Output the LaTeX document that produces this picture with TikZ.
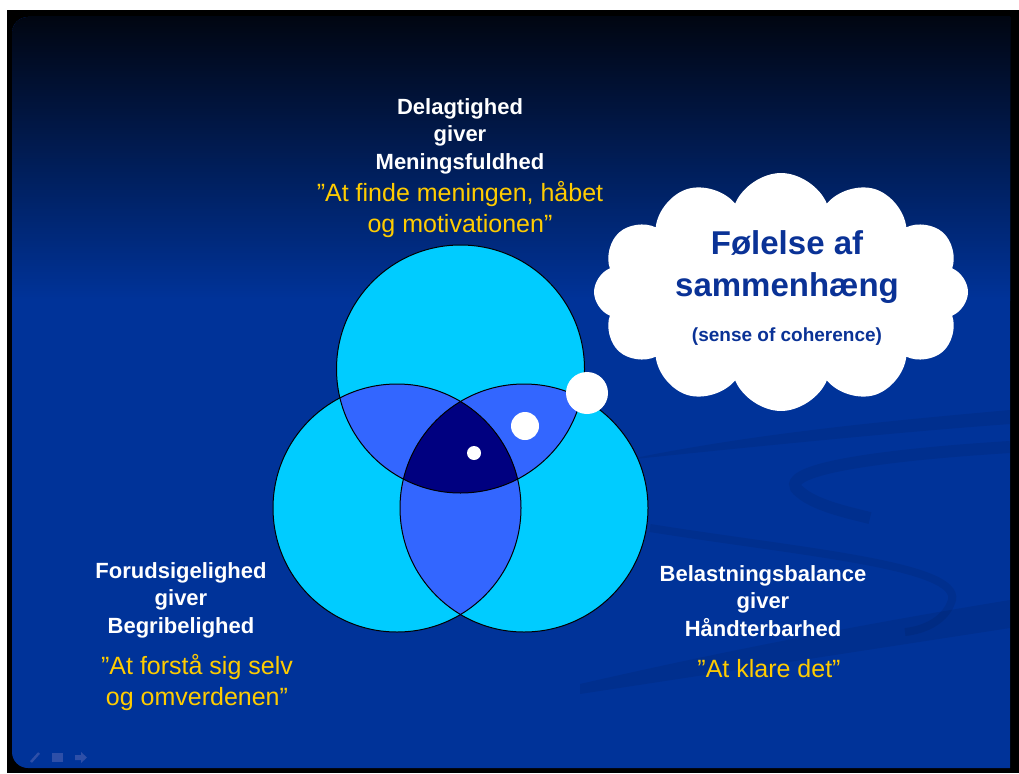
\documentclass[tikz,border=0pt]{standalone}
\usepackage{fontspec}
\setmainfont{Liberation Sans}
\usetikzlibrary{shapes.symbols}

\definecolor{slidebase}{HTML}{003399}
\definecolor{slidetop}{HTML}{010612}
\definecolor{setcyan}{HTML}{00CCFF}
\definecolor{setpair}{HTML}{3366FF}
\definecolor{setall}{HTML}{000080}
\definecolor{quoteyellow}{HTML}{FFCC00}
\definecolor{cloudtext}{HTML}{0A3296}
\definecolor{iconblue}{HTML}{2E4FA8}

\begin{document}
\begin{tikzpicture}
[x=1pt,y=-1pt,every node/.style={inner sep=0pt,align=center},
  lbl/.style = {text=white,font=\bfseries\fontsize{22}{27.5}\selectfont},
  quotelbl/.style = {text=quoteyellow,font=\fontsize{25}{31}\selectfont},
  bubble/.style = {circle,fill=white,draw=none},
  setedge/.style = {draw=black,line width=1pt},
  swoosh/.style = {fill=black,opacity=0.07},
  swooshline/.style = {draw=black,opacity=0.07}]
%
\useasboundingbox (0,0) rectangle (1019,773);
\fill[white] (0,0) rectangle (1019,773);
\fill[black] (7,10) rectangle (1019,773);
%
% slide background
\begin{scope}
\clip (1010,17) [rounded corners=16]-- (12,17) -- (12,768) [sharp corners]-- (1010,768) -- cycle;
\fill[slidebase] (0,0) rectangle (1019,773);
\shade[top color=slidetop,bottom color=slidebase] (0,17) rectangle (1019,300);
% swooshes
\fill[swoosh] (625,460) .. controls (760,432) and (900,420) .. (1010,410) -- (1010,424) .. controls (900,432) and (760,446) .. (625,460) -- cycle;
\draw[swooshline,line width=12pt] (1010,447) .. controls (880,455) and (770,470) .. (800,492) .. controls (815,505) and (845,512) .. (870,518);
\draw[swooshline,line width=8pt] (650,528) .. controls (800,552) and (960,565) .. (952,600) .. controls (946,620) and (925,630) .. (905,632);
\fill[swoosh] (580,684) .. controls (750,645) and (900,618) .. (1010,600) -- (1010,628) .. controls (900,645) and (750,668) .. (580,694) -- cycle;
\end{scope}
%
% player icons
\draw[iconblue,line width=2.5pt] (31,762) -- (39,753);
\fill[iconblue] (52,753) rectangle (63,762);
\fill[iconblue] (75,755) -- (81,755) -- (81,752) -- (87,757.5) -- (81,763) -- (81,760) -- (75,760) -- cycle;
%
% the three sets
\coordinate (ctop) at (460.5,369);
\coordinate (cleft) at (397,508);
\coordinate (cright) at (524,508);
\def\rad{124}
%
\fill[setcyan] (ctop) circle[radius=\rad] (cleft) circle[radius=\rad] (cright) circle[radius=\rad];
\begin{scope}
\clip (ctop) circle[radius=\rad];
\fill[setpair] (cleft) circle[radius=\rad] (cright) circle[radius=\rad];
\end{scope}
\begin{scope}
\clip (cleft) circle[radius=\rad];
\fill[setpair] (cright) circle[radius=\rad];
\end{scope}
\begin{scope}
\clip (ctop) circle[radius=\rad];
\clip (cleft) circle[radius=\rad];
\fill[setall] (cright) circle[radius=\rad];
\end{scope}
\path[setedge] (ctop) circle[radius=\rad];
\path[setedge] (cleft) circle[radius=\rad];
\path[setedge] (cright) circle[radius=\rad];
%
% thought cloud
\node[cloud,fill=white,cloud puffs=12,cloud puff arc=135,aspect=1.6,
      minimum width=374pt,minimum height=238pt] (soc) at (781,292) {};
\node[bubble,minimum size=14pt] (dot1) at (474,453) {};
\node[bubble,minimum size=28pt] (dot2) at (525,426) {};
\node[bubble,minimum size=42pt] (dot3) at (587,393) {};
%
\node[text=cloudtext,font=\bfseries\fontsize{33}{42}\selectfont] (soctitle) at (787,267) {Følelse af\\sammenhæng};
\node[text=cloudtext,font=\bfseries\fontsize{19}{23}\selectfont] (socsub) at (787,337) {(sense of coherence)};
%
% labels
\node[lbl] (meaning) at (460,136) {Delagtighed\\giver\\Meningsfuldhed};
\node[quotelbl] (meaningq) at (460,210) {”At finde meningen, håbet\\og motivationen”};
\node[lbl] (compr) at (181,600) {Forudsigelighed\\giver\\Begribelighed};
\node[quotelbl] (comprq) at (197,683) {”At forstå sig selv\\og omverdenen”};
\node[lbl] (manage) at (763,601) {Belastningsbalance\\giver\\Håndterbarhed};
\node[quotelbl] (manageq) at (769,669) {”At klare det”};
\end{tikzpicture}
\end{document}
